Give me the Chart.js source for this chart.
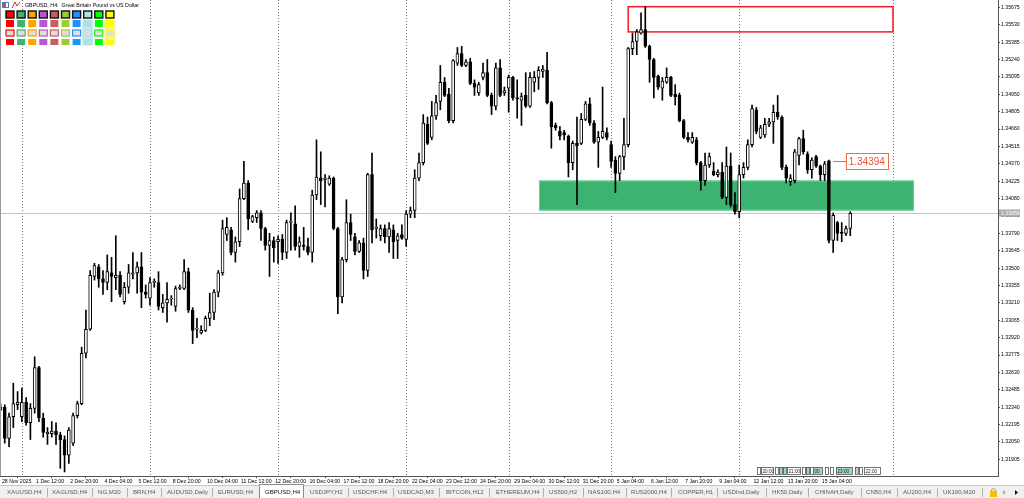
<!DOCTYPE html>
<html>
<head>
<meta charset="utf-8">
<script src="https://cdn.jsdelivr.net/npm/chart.js@4.4.1/dist/chart.umd.min.js"></script>
<style>
  html, body { margin: 0; padding: 0; background: #fff; }
</style>
</head>
<body>
<canvas id="chart" width="1024" height="498"></canvas>
<script>
// GBPUSD H4 candles, one entry per bar (bar 0 = 28 Nov 2025)
const opens = [
  1.3232, 1.3234, 1.3208, 1.3226, 1.3236, 1.3226, 1.3238, 1.3221, 1.3233, 1.3267,
  1.3225, 1.3212, 1.3212, 1.3214, 1.3211, 1.3207, 1.3194, 1.3204, 1.3227, 1.3237,
  1.3279, 1.3299, 1.3343, 1.3351, 1.3341, 1.3338, 1.3346, 1.3342, 1.3344, 1.3322,
  1.3334, 1.3345, 1.3346, 1.3351, 1.3330, 1.3325, 1.3338, 1.3338, 1.3317, 1.3321,
  1.3324, 1.3318, 1.3333, 1.3333, 1.3347, 1.3315, 1.3299, 1.3296, 1.3298, 1.3308,
  1.3313, 1.3330, 1.3346, 1.3378, 1.3382, 1.3363, 1.3372, 1.3408, 1.3421, 1.3389,
  1.3392, 1.3396, 1.3383, 1.3369, 1.3373, 1.3372, 1.3374, 1.3363, 1.3388, 1.3387,
  1.3368, 1.3369, 1.3368, 1.3363, 1.3411, 1.3425, 1.3424, 1.3420, 1.3425, 1.3383,
  1.3326, 1.3357, 1.3388, 1.3376, 1.3364, 1.3371, 1.3348, 1.3428, 1.3383, 1.3377,
  1.3383, 1.3376, 1.3382, 1.3373, 1.3378, 1.3374, 1.3395, 1.3398, 1.3425, 1.3438,
  1.3470, 1.3459, 1.3477, 1.3489, 1.3505, 1.3495, 1.3473, 1.3521, 1.3529, 1.3519,
  1.3522, 1.3504, 1.3496, 1.3509, 1.3513, 1.3494, 1.3485, 1.3517, 1.3496, 1.3500,
  1.3509, 1.3492, 1.3490, 1.3494, 1.3485, 1.3505, 1.3509, 1.3514, 1.3515, 1.3488,
  1.3469, 1.3464, 1.3463, 1.3460, 1.3438, 1.3454, 1.3454, 1.3474, 1.3487, 1.3471,
  1.3455, 1.3459, 1.3463, 1.3453, 1.3440, 1.3429, 1.3443, 1.3453, 1.3533, 1.3539,
  1.3546, 1.3549, 1.3535, 1.3524, 1.3510, 1.3500, 1.3505, 1.3509, 1.3495, 1.3494,
  1.3473, 1.3459, 1.3455, 1.3457, 1.3438, 1.3423, 1.3436, 1.3431, 1.3428, 1.3430,
  1.3409, 1.3435, 1.3403, 1.3397, 1.3428, 1.3434, 1.3453, 1.3482, 1.3459, 1.3461,
  1.3470, 1.3472, 1.3480, 1.3476, 1.3434, 1.3422, 1.3423, 1.3444, 1.3458, 1.3445,
  1.3432, 1.3443, 1.3435, 1.3428, 1.34394, 1.3373, 1.3388, 1.3380, 1.3379, 1.3383
];
const highs = [
  1.3237, 1.3236, 1.3229, 1.3254, 1.3247, 1.3250, 1.3242, 1.3237, 1.3276, 1.3268,
  1.3229, 1.3217, 1.3222, 1.3221, 1.3213, 1.3210, 1.3217, 1.3229, 1.3239, 1.3284,
  1.3315, 1.3348, 1.3354, 1.3353, 1.3348, 1.3361, 1.3359, 1.3377, 1.3347, 1.3338,
  1.3353, 1.3363, 1.3355, 1.3363, 1.3336, 1.3342, 1.3341, 1.3347, 1.3328, 1.3338,
  1.3327, 1.3335, 1.3336, 1.3357, 1.3350, 1.3317, 1.3308, 1.3302, 1.3310, 1.3329,
  1.3332, 1.3348, 1.3390, 1.3392, 1.3384, 1.3376, 1.3416, 1.3439, 1.3423, 1.3394,
  1.3398, 1.3398, 1.3384, 1.3379, 1.3376, 1.3377, 1.3378, 1.3390, 1.3396, 1.3402,
  1.3376, 1.3384, 1.3375, 1.3415, 1.3457, 1.3447, 1.3428, 1.3427, 1.3426, 1.3384,
  1.3359, 1.3407, 1.3395, 1.3379, 1.3373, 1.3375, 1.3429, 1.3446, 1.3391, 1.3386,
  1.3386, 1.3388, 1.3386, 1.3379, 1.3386, 1.3398, 1.3401, 1.3432, 1.3446, 1.3478,
  1.3476, 1.3489, 1.3494, 1.3519, 1.3509, 1.3500, 1.3524, 1.3534, 1.3535, 1.3524,
  1.3525, 1.3507, 1.3505, 1.3521, 1.3524, 1.3496, 1.3521, 1.3524, 1.3501, 1.3511,
  1.3510, 1.3507, 1.3496, 1.3513, 1.3513, 1.3514, 1.3518, 1.3519, 1.3530, 1.3489,
  1.3471, 1.3468, 1.3465, 1.3461, 1.3456, 1.3476, 1.3479, 1.3489, 1.3492, 1.3473,
  1.3464, 1.3501, 1.3467, 1.3456, 1.3443, 1.3444, 1.3475, 1.3534, 1.3546, 1.3549,
  1.3563, 1.3568, 1.3536, 1.3525, 1.3511, 1.3509, 1.3517, 1.3510, 1.3503, 1.3496,
  1.3474, 1.3463, 1.3463, 1.3459, 1.3439, 1.3446, 1.3446, 1.3438, 1.3432, 1.3438,
  1.3451, 1.3446, 1.3413, 1.3436, 1.3438, 1.3457, 1.3486, 1.3484, 1.3469, 1.3475,
  1.3475, 1.3486, 1.3494, 1.3477, 1.3436, 1.3428, 1.3449, 1.3459, 1.3465, 1.3447,
  1.3442, 1.3444, 1.3436, 1.3439, 1.3440, 1.3396, 1.3389, 1.3388, 1.3385, 1.3397
];
const lows = [
  1.3231, 1.3204, 1.3201, 1.3217, 1.3232, 1.3222, 1.3219, 1.3207, 1.3229, 1.3222,
  1.3209, 1.3203, 1.3209, 1.3203, 1.3183, 1.3180, 1.3187, 1.3202, 1.3225, 1.3236,
  1.3275, 1.3298, 1.3340, 1.3334, 1.3328, 1.3332, 1.3322, 1.3332, 1.3326, 1.3320,
  1.3329, 1.3341, 1.3329, 1.3317, 1.3325, 1.3319, 1.3334, 1.3315, 1.3313, 1.3305,
  1.3319, 1.3314, 1.3332, 1.3332, 1.3313, 1.3287, 1.3292, 1.3295, 1.3297, 1.3302,
  1.3307, 1.3326, 1.3344, 1.3373, 1.3361, 1.3355, 1.3368, 1.3407, 1.3382, 1.3388,
  1.3388, 1.3373, 1.3365, 1.3343, 1.3355, 1.3354, 1.3357, 1.3358, 1.3365, 1.3365,
  1.3359, 1.3365, 1.3361, 1.3355, 1.3407, 1.3403, 1.3401, 1.3419, 1.3382, 1.3312,
  1.3321, 1.3355, 1.3373, 1.3361, 1.3363, 1.3341, 1.3343, 1.3371, 1.3375, 1.3373,
  1.3371, 1.3363, 1.3358, 1.3358, 1.3374, 1.3368, 1.3392, 1.3392, 1.3423, 1.3436,
  1.3453, 1.3457, 1.3474, 1.3482, 1.3493, 1.3471, 1.3471, 1.3519, 1.3518, 1.3518,
  1.3503, 1.3494, 1.3494, 1.3507, 1.3493, 1.3478, 1.3482, 1.3493, 1.3494, 1.3480,
  1.3490, 1.3475, 1.3469, 1.3484, 1.3484, 1.3497, 1.3499, 1.3509, 1.3487, 1.3450,
  1.3465, 1.3457, 1.3457, 1.3426, 1.3432, 1.3403, 1.3453, 1.3473, 1.3469, 1.3454,
  1.3434, 1.3458, 1.3457, 1.3434, 1.3413, 1.3423, 1.3432, 1.3451, 1.3528, 1.3528,
  1.3545, 1.3534, 1.3505, 1.3492, 1.3499, 1.3490, 1.3504, 1.3493, 1.3486, 1.3472,
  1.3458, 1.3455, 1.3454, 1.3436, 1.3415, 1.3419, 1.3434, 1.3427, 1.3426, 1.3408,
  1.3403, 1.3401, 1.3395, 1.3392, 1.3425, 1.3432, 1.3451, 1.3462, 1.3458, 1.3459,
  1.3468, 1.3454, 1.3474, 1.3432, 1.3421, 1.3419, 1.3421, 1.3436, 1.3445, 1.3429,
  1.3425, 1.3434, 1.3423, 1.3423, 1.3371, 1.3363, 1.3373, 1.3372, 1.3377, 1.3377
];
const closes = [
  1.3234, 1.3208, 1.3226, 1.3237, 1.3238, 1.3238, 1.3221, 1.3233, 1.3267, 1.3225,
  1.3213, 1.3213, 1.3214, 1.3211, 1.3207, 1.3194, 1.3215, 1.3227, 1.3237, 1.3279,
  1.3299, 1.3344, 1.3352, 1.3341, 1.3338, 1.3347, 1.3343, 1.3344, 1.3328, 1.3334,
  1.3346, 1.3346, 1.3351, 1.3330, 1.3328, 1.3338, 1.3339, 1.3318, 1.3321, 1.3324,
  1.3325, 1.3333, 1.3334, 1.3347, 1.3315, 1.3298, 1.3300, 1.3298, 1.3308, 1.3313,
  1.3330, 1.3346, 1.3383, 1.3384, 1.3363, 1.3372, 1.3408, 1.3421, 1.3391, 1.3393,
  1.3396, 1.3383, 1.3369, 1.3373, 1.3367, 1.3374, 1.3363, 1.3388, 1.3389, 1.3368,
  1.3372, 1.3368, 1.3363, 1.3411, 1.3426, 1.3423, 1.3425, 1.3425, 1.3383, 1.3326,
  1.3357, 1.3388, 1.3378, 1.3364, 1.3371, 1.3348, 1.3428, 1.3382, 1.3384, 1.3383,
  1.3376, 1.3383, 1.3372, 1.3377, 1.3375, 1.3395, 1.3398, 1.3425, 1.3438, 1.3471,
  1.3454, 1.3477, 1.3488, 1.3505, 1.3494, 1.3473, 1.3523, 1.3529, 1.3519, 1.3522,
  1.3504, 1.3501, 1.3503, 1.3513, 1.3494, 1.3485, 1.3517, 1.3494, 1.3498, 1.3509,
  1.3492, 1.3491, 1.3493, 1.3485, 1.3509, 1.3509, 1.3515, 1.3516, 1.3488, 1.3468,
  1.3467, 1.3460, 1.3461, 1.3438, 1.3454, 1.3452, 1.3474, 1.3487, 1.3471, 1.3455,
  1.3459, 1.3464, 1.3459, 1.3439, 1.3429, 1.3443, 1.3453, 1.3533, 1.3539, 1.3547,
  1.3549, 1.3535, 1.3524, 1.3509, 1.3501, 1.3506, 1.3509, 1.3494, 1.3493, 1.3473,
  1.3459, 1.3457, 1.3459, 1.3438, 1.3423, 1.3436, 1.3443, 1.3428, 1.3430, 1.3409,
  1.3435, 1.3403, 1.3397, 1.3428, 1.3434, 1.3453, 1.3483, 1.3464, 1.3467, 1.3470,
  1.3472, 1.3480, 1.3476, 1.3434, 1.3425, 1.3425, 1.3447, 1.3458, 1.3447, 1.3432,
  1.3440, 1.3435, 1.3428, 1.3437, 1.3373, 1.3394, 1.3379, 1.3379, 1.3383, 1.33956
];

// time axis: label every 8 bars
const labelBars = [0, 8, 16, 24, 32, 40, 48, 56, 64, 72, 80, 88, 96, 104, 112, 120, 128, 136, 144, 152, 160, 168, 176, 184, 192];
const timeLabels = ['28 Nov 2025', '1 Dec 12:00', '2 Dec 20:00', '4 Dec 04:00', '5 Dec 12:00', '8 Dec 20:00',
  '10 Dec 04:00', '11 Dec 12:00', '12 Dec 20:00', '16 Dec 04:00', '17 Dec 12:00', '18 Dec 20:00',
  '22 Dec 04:00', '23 Dec 12:00', '24 Dec 20:00', '29 Dec 04:00', '30 Dec 12:00', '31 Dec 20:00',
  '5 Jan 04:00', '6 Jan 12:00', '7 Jan 20:00', '9 Jan 04:00', '12 Jan 12:00', '13 Jan 20:00', '15 Jan 04:00'];
// weekly separators (bar index of Monday 00:00)
const weekStarts = [5, 35, 65, 95, 119, 143, 173, 209];

const priceTicks = [1.35675, 1.35530, 1.35385, 1.35240, 1.35095, 1.34950, 1.34805, 1.34660, 1.34515,
  1.34370, 1.34225, 1.34080, 1.33935, 1.33790, 1.33645, 1.33500, 1.33355, 1.33210, 1.33065,
  1.32920, 1.32775, 1.32630, 1.32485, 1.32340, 1.32195, 1.32050, 1.31905];

const lastPrice = 1.33956;
// drawn objects on the chart
const greenZone = { from: 126.1, to: 213.9, top: 1.3423, bottom: 1.3398 };
const redBox = { from: 147.0, to: 209.0, top: 1.3568, bottom: 1.3547 };
const priceTag = { bar: 195, price: 1.34394 };

const tabs = [['XAUUSD,H4', 7], ['XAGUSD,H4', 52], ['NG,M20', 98], ['BRN,H4', 133], ['AUDUSD,Daily', 167],
  ['EURUSD,H4', 218], ['GBPUSD,H4', 265], ['USDJPY,H2', 310], ['USDCHF,H4', 353], ['USDCAD,M3', 398],
  ['BITCOIN,H12', 446], ['ETHEREUM,H4', 496], ['US500,H2', 549], ['NAS100,H4', 588], ['RUS2000,H4', 631],
  ['COPPER,H1', 678], ['USDInd,Daily', 723], ['HK50,Daily', 772], ['CHINAH,Daily', 815], ['CN50,H4', 866],
  ['AU200,H4', 903], ['UK100,M20', 943]];
const tabSeps = [47, 92, 127, 161, 212, 348, 393, 439, 489, 543, 583, 626, 671, 717, 766, 808, 861, 897, 937, 982];
const paletteColors = ['#ff0000', '#3cb371', '#ffa500', '#ba55d3', '#cd5c5c', '#9acd32', '#1e90ff', '#b0e0e6', '#00ff00', '#ffff00'];

const FONT = "'Liberation Sans', Arial, sans-serif";

const bodyData = opens.map((o, i) => ({ x: i, y: [o, closes[i]] }));
const wickData = lows.map((l, i) => ({ x: i, y: [l, highs[i]] }));
const bodyColors = opens.map((o, i) => closes[i] >= o ? '#ffffff' : '#000000');

const mtPlugin = {
  id: 'mtDecor',
  beforeDatasetsDraw(chart) {
    const { ctx, chartArea: a, scales: { x, y } } = chart;
    ctx.save();
    // week separators
    ctx.strokeStyle = '#777';
    ctx.lineWidth = 1;
    ctx.setLineDash([1, 2]);
    weekStarts.forEach(b => {
      const px = Math.round(x.getPixelForValue(b)) + 0.5;
      ctx.beginPath();
      ctx.moveTo(px, a.top);
      ctx.lineTo(px, a.bottom);
      ctx.stroke();
    });
    ctx.setLineDash([]);

    // bid line
    const cy = Math.round(y.getPixelForValue(lastPrice)) + 0.5;
    ctx.strokeStyle = '#c4c4c4';
    ctx.beginPath();
    ctx.moveTo(a.left, cy);
    ctx.lineTo(a.right, cy);
    ctx.stroke();

    // support zone
    const gx0 = x.getPixelForValue(greenZone.from), gx1 = x.getPixelForValue(greenZone.to);
    const gy0 = y.getPixelForValue(greenZone.top), gy1 = y.getPixelForValue(greenZone.bottom);
    ctx.fillStyle = '#3cb371';
    ctx.fillRect(gx0, gy0, gx1 - gx0, gy1 - gy0);
    ctx.strokeStyle = '#6fd09a';
    ctx.strokeRect(gx0 + 0.5, gy0 + 0.5, gx1 - gx0 - 1, gy1 - gy0 - 1);

    // resistance box
    const rx0 = x.getPixelForValue(redBox.from), rx1 = x.getPixelForValue(redBox.to);
    const ry0 = y.getPixelForValue(redBox.top), ry1 = y.getPixelForValue(redBox.bottom);
    ctx.strokeStyle = '#ee1c25';
    ctx.lineWidth = 1.5;
    ctx.strokeRect(rx0, ry0, rx1 - rx0, ry1 - ry0);
    ctx.restore();
  },
  afterDatasetsDraw(chart) {
    const { ctx, chartArea: a, scales: { x, y } } = chart;
    ctx.save();
    // price tag 1.34394
    const tx = x.getPixelForValue(priceTag.bar);
    const ty = Math.round(y.getPixelForValue(priceTag.price)) + 0.5;
    ctx.strokeStyle = '#ef6a44';
    ctx.lineWidth = 1;
    ctx.beginPath();
    ctx.moveTo(tx, ty);
    ctx.lineTo(tx + 13, ty);
    ctx.stroke();
    ctx.fillStyle = '#fff';
    ctx.fillRect(tx + 13, ty - 8, 42, 16);
    ctx.strokeRect(Math.round(tx + 13) + 0.5, ty - 8, 42, 16);
    ctx.fillStyle = '#e8532c';
    ctx.font = '10px ' + FONT;
    ctx.textBaseline = 'middle';
    ctx.fillText(priceTag.price.toFixed(5), tx + 15.5, ty + 0.5);

    // small object time labels above the time axis
    const boxes = [[757, 3, '#fff', ''], [761, 12, '#fff', '20:00'], [775, 3, '#fff', ''], [779, 3, '#9ed6c6', ''],
      [783, 3, '#9ed6c6', ''], [787, 13, '#fff', '21:00'], [802, 3, '#fff', ''], [806, 3, '#9ed6c6', ''],
      [810, 3, '#fff', ''], [813, 9, '#9ed6c6', '00'], [825, 3, '#fff', ''], [830, 3, '#fff', ''],
      [836, 16, '#9ed6c6', '23:00'], [855, 3, '#ccc', ''], [859, 3, '#fff', ''], [864, 16, '#fff', '22:00']];
    ctx.font = '4.6px ' + FONT;
    ctx.lineWidth = 0.8;
    boxes.forEach(([bx, bw, fill, t]) => {
      ctx.fillStyle = fill;
      ctx.fillRect(bx, 467, bw, 7);
      ctx.strokeStyle = '#555';
      ctx.strokeRect(bx + 0.5, 467.5, bw, 7);
      if (t) {
        ctx.fillStyle = '#222';
        ctx.fillText(t, bx + 1.5, 471.3);
      }
    });
    ctx.restore();
  },
  afterDraw(chart) {
    const { ctx, chartArea: a, scales: { y } } = chart;
    ctx.save();
    // left frame
    ctx.strokeStyle = '#999';
    ctx.lineWidth = 1;
    ctx.beginPath();
    ctx.moveTo(0.5, 0);
    ctx.lineTo(0.5, a.bottom);
    ctx.stroke();

    // bid label on the price axis
    const cy = Math.round(y.getPixelForValue(lastPrice));
    ctx.fillStyle = '#adadad';
    ctx.fillRect(a.right + 1, cy - 3.5, 21, 7);
    ctx.fillStyle = '#fff';
    ctx.font = '5.2px ' + FONT;
    ctx.textBaseline = 'middle';
    ctx.fillText(lastPrice.toFixed(5), a.right + 3, cy + 0.3);

    // header
    ctx.fillStyle = '#4a7bd0';
    ctx.fillRect(2, 2, 7, 6);
    ctx.fillStyle = '#e04040';
    ctx.fillRect(3, 3, 2, 4);
    ctx.fillStyle = '#fff';
    ctx.fillRect(6, 3, 2, 4);
    ctx.strokeStyle = '#d03030';
    ctx.beginPath();
    ctx.moveTo(12, 8); ctx.lineTo(15, 2); ctx.lineTo(17, 6); ctx.lineTo(20, 2);
    ctx.stroke();
    ctx.fillStyle = '#000';
    ctx.font = '5.3px ' + FONT;
    ctx.fillText('GBPUSD, H4:  Great Britain Pound vs US Dollar', 25, 5.5);

    // object colour palette
    paletteColors.forEach((c, i) => {
      const px = 6 + i * 11.1;
      if (i === 7) { ctx.fillStyle = '#c4e8ee'; ctx.fillRect(px - 1.5, 19.5, 11, 26); }
      if (i === 9) { ctx.fillStyle = '#f3f3a0'; ctx.fillRect(px - 1.5, 19.5, 11, 26); }
      ctx.fillStyle = c;
      ctx.fillRect(px, 11, 8, 7);
      ctx.strokeStyle = '#111';
      ctx.lineWidth = 1.4;
      ctx.strokeRect(px, 11, 8, 7);
      ctx.fillStyle = c;
      ctx.fillRect(px, 20, 8, 7);
      ctx.fillStyle = '#dedede';
      ctx.fillRect(px, 30, 8, 6);
      ctx.strokeStyle = c;
      ctx.lineWidth = 1.2;
      ctx.strokeRect(px, 30, 8, 6);
      ctx.fillStyle = c;
      ctx.fillRect(px, 39, 8, 6);
    });

    // symbol tabs
    const ty = 485;
    ctx.fillStyle = '#f0f0f0';
    ctx.fillRect(0, ty, 1024, 13);
    ctx.strokeStyle = '#c8c8c8';
    ctx.lineWidth = 1;
    ctx.beginPath();
    ctx.moveTo(0, ty + 0.5);
    ctx.lineTo(1024, ty + 0.5);
    ctx.stroke();
    ctx.fillStyle = '#fff';
    ctx.fillRect(259, ty - 1, 45, 14);
    ctx.strokeStyle = '#8a8a8a';
    ctx.beginPath();
    ctx.moveTo(259.5, 498); ctx.lineTo(259.5, ty - 0.5); ctx.lineTo(303.5, ty - 0.5); ctx.lineTo(303.5, 498);
    ctx.stroke();
    ctx.font = '6.1px ' + FONT;
    ctx.textBaseline = 'middle';
    tabs.forEach(([t, tx]) => {
      ctx.fillStyle = t === 'GBPUSD,H4' ? '#111' : '#5a5a5a';
      ctx.fillText(t, tx, 492.5);
    });
    ctx.strokeStyle = '#b0b0b0';
    tabSeps.forEach(sx => {
      ctx.beginPath();
      ctx.moveTo(sx + 0.5, 488);
      ctx.lineTo(sx + 0.5, 497);
      ctx.stroke();
    });
    // lock + scroll arrows
    ctx.fillStyle = '#f2c200';
    ctx.fillRect(990, 491, 7, 6);
    ctx.strokeStyle = '#c89a00';
    ctx.beginPath();
    ctx.arc(993.5, 491, 2.3, Math.PI, 0);
    ctx.stroke();
    ctx.fillStyle = '#aaa';
    ctx.beginPath();
    ctx.moveTo(1005, 490); ctx.lineTo(1002, 492.5); ctx.lineTo(1005, 495); ctx.fill();
    ctx.fillStyle = '#111';
    ctx.beginPath();
    ctx.moveTo(1015, 490); ctx.lineTo(1018, 492.5); ctx.lineTo(1015, 495); ctx.fill();
    ctx.restore();
  }
};

const ctx = document.getElementById('chart').getContext('2d');
const chart = new Chart(ctx, {
  type: 'bar',
  data: {
    datasets: [
      {
        label: 'body',
        data: bodyData,
        backgroundColor: bodyColors,
        borderColor: '#000',
        borderWidth: 1,
        borderSkipped: false,
        barThickness: 3,
        minBarLength: 1,
        grouped: false
      },
      {
        label: 'wick',
        data: wickData,
        backgroundColor: '#000',
        borderWidth: 0,
        barThickness: 1,
        grouped: false
      }
    ]
  },
  options: {
    responsive: false,
    animation: false,
    events: [],
    layout: { padding: { left: 0, right: 0, top: 0, bottom: 13 } },
    plugins: {
      legend: { display: false },
      tooltip: { enabled: false }
    },
    scales: {
      x: {
        type: 'linear',
        min: -0.12,
        max: 233.6,
        offset: false,
        afterBuildTicks: s => { s.ticks = labelBars.map(v => ({ value: v })); },
        afterFit: s => { s.height = 9; s.paddingLeft = 0; s.paddingRight = 0; },
        ticks: {
          autoSkip: false,
          maxRotation: 0,
          align: 'start',
          padding: 0,
          color: '#000',
          font: { family: FONT, size: 5.2 },
          callback: v => ' ' + timeLabels[labelBars.indexOf(v)]
        },
        grid: { drawOnChartArea: false, tickLength: 2, color: '#444' },
        border: { color: '#555' }
      },
      y: {
        position: 'right',
        min: 1.31766,
        max: 1.35736,
        afterBuildTicks: s => { s.ticks = priceTicks.map(v => ({ value: v })); },
        afterFit: s => { s.width = 26; s.paddingTop = 0; s.paddingBottom = 0; },
        ticks: {
          padding: 1,
          color: '#000',
          font: { family: FONT, size: 5.2 },
          callback: v => v.toFixed(5)
        },
        grid: { drawOnChartArea: false, tickLength: 2, color: '#444' },
        border: { color: '#555' }
      }
    }
  },
  plugins: [mtPlugin]
});
</script>
</body>
</html>
